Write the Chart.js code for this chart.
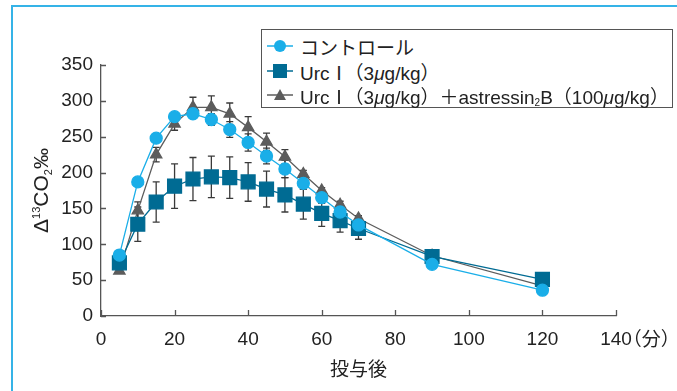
<!DOCTYPE html>
<html><head><meta charset="utf-8">
<script src="https://cdn.jsdelivr.net/npm/chart.js@4/dist/chart.umd.min.js"></script>
<style>
html,body{margin:0;padding:0;background:#fff;}
#wrap{position:relative;width:677px;height:391px;overflow:hidden;background:#fff;}
#frame{position:absolute;left:11px;top:5px;width:720px;height:440px;border-top:2px solid #35b3e7;border-left:2px solid #35b3e7;}
#c{position:absolute;left:0;top:0;}
#legend{position:absolute;left:261px;top:29px;width:410px;height:77px;border:1.5px solid #555;background:#fff;font-family:"Liberation Sans","Noto Sans CJK JP",sans-serif;font-size:19px;color:#222;}
.row{position:absolute;left:0;height:24px;display:flex;align-items:center;white-space:nowrap;}
.row svg{flex:0 0 auto;margin-left:4px;margin-right:6px;}
.cjk{font-family:"Noto Sans CJK JP",sans-serif;}
.tight{margin-left:-4px;}
sub{font-size:10px;vertical-align:-2px;line-height:0;}
</style></head>
<body>
<div id="wrap">
<div id="frame"></div>
<canvas id="c" width="677" height="391"></canvas>
<div id="legend">
 <div class="row" style="top:4px">
  <svg width="28" height="16"><line x1="1" y1="8" x2="27" y2="8" stroke="#1aaee8" stroke-width="1.5"/><circle cx="14" cy="8" r="6" fill="#1aaee8"/></svg>
  <span class="cjk">コントロール</span></div>
 <div class="row" style="top:29px">
  <svg width="28" height="16"><line x1="1" y1="8" x2="27" y2="8" stroke="#006b93" stroke-width="1.5"/><rect x="7" y="1" width="14" height="14" fill="#006b93"/></svg>
  <span>Urc<span class="cjk">Ⅰ</span><span class="cjk tight">（</span>3<i>μ</i>g/kg<span class="cjk">）</span></span></div>
 <div class="row" style="top:53px">
  <svg width="28" height="16"><line x1="1" y1="8" x2="27" y2="8" stroke="#5c5c5c" stroke-width="1.5"/><polygon points="14,2 20,13 8,13" fill="#5c5c5c"/></svg>
  <span>Urc<span class="cjk">Ⅰ</span><span class="cjk tight">（</span>3<i>μ</i>g/kg<span class="cjk">）＋</span>astressin<sub>2</sub>B<span class="cjk">（</span>100<i>μ</i>g/kg<span class="cjk">）</span></span></div>
</div>
</div>
<script>
const times      = [5,10,15,20,25,30,35,40,45,50,55,60,65,70,90,120];
const control    = [85,187,248,278,282,274,260,242,223,205,185,165,145,127,72,36];
const controlErr = [4,6,6,5,6,8,11,12,11,12,8,8,7,7,5,4];
const urc        = [74,128,159,181,191,194,193,187,177,169,156,143,133,122,83,51];
const urcErr     = [6,24,28,31,30,29,29,27,25,24,21,18,16,15,5,6];
const astressin  = [63,147,225,268,291,291,282,263,243,222,198,175,155,136,84,42];
const astressinErr = [3,12,10,9,14,16,15,15,12,10,5,4,5,4,4,4];
const seriesNames = ['コントロール','UrcⅠ（3μg/kg）','UrcⅠ（3μg/kg）＋astressin2B（100μg/kg）'];
const xTickMax = 140, xTickStep = 20;
const yTickMax = 350, yTickStep = 50;
const xTitle = '投与後';
const xUnit = '（分）';

const errs = [controlErr, urcErr, astressinErr];
const toPts = arr => times.map((t,i)=>({x:t,y:arr[i]}));

const errorBars = {
  id:'errorBars',
  beforeDatasetsDraw(chart){
    const {ctx, scales:{x,y}} = chart;
    ctx.save();
    ctx.strokeStyle = '#3a3a3a';
    ctx.lineWidth = 1.3;
    chart.data.datasets.forEach((ds,di)=>{
      const e = errs[di];
      ds.data.forEach((p,i)=>{
        const px = x.getPixelForValue(p.x);
        const y1 = y.getPixelForValue(p.y + e[i]);
        const y2 = y.getPixelForValue(p.y - e[i]);
        ctx.beginPath();
        ctx.moveTo(px,y1); ctx.lineTo(px,y2);
        ctx.moveTo(px-3.5,y1); ctx.lineTo(px+3.5,y1);
        ctx.moveTo(px-3.5,y2); ctx.lineTo(px+3.5,y2);
        ctx.stroke();
      });
    });
    ctx.restore();
  }
};

const axisDecor = {
  id:'axisDecor',
  afterDraw(chart){
    const {ctx, chartArea:a, scales:{x,y}} = chart;
    ctx.save();
    ctx.strokeStyle = '#555';
    ctx.lineWidth = 1.3;
    ctx.beginPath();
    y.ticks.forEach(t=>{ const py = Math.round(y.getPixelForValue(t.value))+0.5; ctx.moveTo(a.left, py); ctx.lineTo(a.left+5, py); });
    x.ticks.forEach(t=>{ const px = Math.round(x.getPixelForValue(t.value))+0.5; ctx.moveTo(px, a.bottom); ctx.lineTo(px, a.bottom-6); });
    ctx.stroke();
    ctx.fillStyle = '#222';
    ctx.font = '19px "Liberation Sans"';
    const w = ctx.measureText(String(xTickMax)).width;
    ctx.font = '19px "Noto Sans CJK JP"';
    ctx.textBaseline = 'middle';
    ctx.textAlign = 'left';
    ctx.fillText(xUnit, x.getPixelForValue(xTickMax) + w/2 - 9, a.bottom + 23);
    ctx.translate(41, (a.top+a.bottom)/2);
    ctx.rotate(-Math.PI/2);
    const segs = [
      {t:'Δ', f:'21px "Liberation Sans"', dy:0},
      {t:'13', f:'11px "Liberation Sans"', dy:-8},
      {t:'CO', f:'21px "Liberation Sans"', dy:0},
      {t:'2', f:'11px "Liberation Sans"', dy:4},
      {t:'‰', f:'21px "Liberation Sans"', dy:0}
    ];
    let tot = 0;
    segs.forEach(s=>{ ctx.font = s.f; s.w = ctx.measureText(s.t).width; tot += s.w; });
    let cx = -tot/2;
    ctx.textBaseline = 'alphabetic';
    segs.forEach(s=>{ ctx.font = s.f; ctx.fillText(s.t, cx, 7 + s.dy); cx += s.w; });
    ctx.restore();
  }
};

new Chart(document.getElementById('c'), {
  type:'line',
  data:{datasets:[
    {label:seriesNames[0], data:toPts(control), borderColor:'#1aaee8', backgroundColor:'#1aaee8', pointBorderColor:'#1aaee8', pointBackgroundColor:'#1aaee8', pointStyle:'circle', pointRadius:6, borderWidth:1.3, tension:0},
    {label:seriesNames[1], data:toPts(urc), borderColor:'#006b93', backgroundColor:'#006b93', pointBorderColor:'#006b93', pointBackgroundColor:'#006b93', pointStyle:'rect', pointRadius:9.8, borderWidth:1.3, tension:0},
    {label:seriesNames[2], data:toPts(astressin), borderColor:'#5c5c5c', backgroundColor:'#5c5c5c', pointBorderColor:'#5c5c5c', pointBackgroundColor:'#5c5c5c', pointStyle:'triangle', pointRadius:6.5, borderWidth:1.3, tension:0}
  ]},
  options:{
    responsive:false, animation:false, devicePixelRatio:1,
    layout:{padding:{left:0, right:61, top:65, bottom:0}},
    plugins:{legend:{display:false}, tooltip:{enabled:false}},
    scales:{
      x:{type:'linear', min:0, max:xTickMax,
         ticks:{stepSize:xTickStep, color:'#222', font:{family:'Liberation Sans', size:19}, padding:12, maxRotation:0},
         grid:{display:true, drawOnChartArea:false, drawTicks:false, tickLength:0},
         border:{display:true, color:'#555', width:1.3},
         title:{display:true, text:xTitle, color:'#222', font:{family:'Noto Sans CJK JP', size:19}, padding:{top:0,bottom:11}},
         afterFit(s){ s.height = 75; }},
      y:{type:'linear', min:0, max:yTickMax,
         ticks:{stepSize:yTickStep, color:'#222', font:{family:'Liberation Sans', size:19}, padding:8},
         grid:{display:true, drawOnChartArea:false, drawTicks:false, tickLength:0},
         border:{display:true, color:'#555', width:1.3},
         afterFit(s){ s.width = 101; }}
    }
  },
  plugins:[errorBars, axisDecor]
});
</script>
</body></html>
